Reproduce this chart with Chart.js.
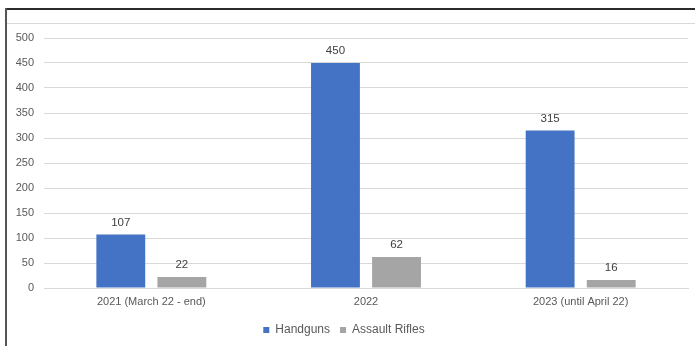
<!DOCTYPE html>
<html>
<head>
<meta charset="utf-8">
<script src="https://cdn.jsdelivr.net/npm/chart.js@4"></script>
<style>
  html, body { margin: 0; padding: 0; background: #fff; }
  #wrap { position: relative; width: 695px; height: 346px; overflow: hidden; }
  #topline { position: absolute; left: 5px; top: 8px; width: 690px; height: 2px; background: #2b2b2b; }
  #leftline { position: absolute; left: 5px; top: 8px; width: 2px; height: 338px; background: #555; }
  #lightline { position: absolute; left: 7px; top: 23px; width: 688px; height: 1px; background: #d9d9d9; }
  canvas { position: absolute; left: 0; top: 0; }
</style>
</head>
<body>
<div id="wrap">
  <div id="topline"></div>
  <div id="lightline"></div>
  <div id="leftline"></div>
  <canvas id="c" width="695" height="346"></canvas>
</div>
<script>
const categories = ["2021 (March 22 - end)", "2022", "2023 (until April 22)"];
const handguns = [107, 450, 315];
const assaultRifles = [22, 62, 16];
const yTicks = [0, 50, 100, 150, 200, 250, 300, 350, 400, 450, 500];

const FONT = "'Liberation Sans', Arial, sans-serif";

const valueLabels = {
  id: 'valueLabels',
  afterDatasetsDraw(chart) {
    const ctx = chart.ctx;
    ctx.save();
    ctx.font = "11.5px " + FONT;
    ctx.fillStyle = '#404040';
    ctx.textAlign = 'center';
    ctx.textBaseline = 'middle';
    chart.data.datasets.forEach((ds, di) => {
      const meta = chart.getDatasetMeta(di);
      meta.data.forEach((el, i) => {
        ctx.fillText(String(ds.data[i]), el.x, el.y - 12);
      });
    });
    ctx.restore();
  }
};

new Chart(document.getElementById('c'), {
  type: 'bar',
  data: {
    labels: categories,
    datasets: [
      { label: 'Handguns', data: handguns, backgroundColor: '#4472C4', categoryPercentage: 0.569, barPercentage: 0.8 },
      { label: 'Assault Rifles', data: assaultRifles, backgroundColor: '#A5A5A5', categoryPercentage: 0.569, barPercentage: 0.8 }
    ]
  },
  options: {
    responsive: false,
    animation: false,
    layout: { padding: { top: 38, right: 7, bottom: 0, left: 0 } },
    plugins: {
      legend: {
        position: 'bottom',
        labels: {
          boxWidth: 6, boxHeight: 6, padding: 10,
          color: '#595959',
          font: { family: FONT, size: 12 }
        }
      },
      tooltip: { enabled: false }
    },
    scales: {
      x: {
        grid: { display: false, drawTicks: false },
        border: { display: true, color: '#d9d9d9' },
        ticks: { color: '#595959', font: { family: FONT, size: 11 }, padding: 7, maxRotation: 0 },
        afterFit(scale) { scale.height = 26; }
      },
      y: {
        min: 0, max: 500,
        afterBuildTicks(scale) { scale.ticks = yTicks.map(v => ({ value: v })); },
        grid: { color: '#d9d9d9', drawTicks: false },
        border: { display: false },
        ticks: { color: '#595959', font: { family: FONT, size: 11 }, padding: 10 },
        afterFit(scale) { scale.width = 44; }
      }
    }
  },
  plugins: [valueLabels]
});
</script>
</body>
</html>
